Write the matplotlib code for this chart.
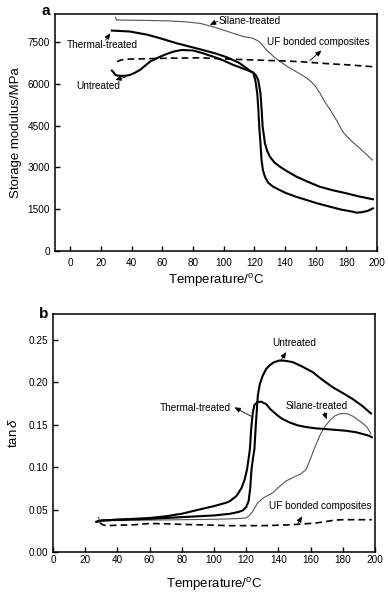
import matplotlib
matplotlib.use('Agg')
import matplotlib.pyplot as plt

plt.rcParams['font.family'] = ['Liberation Sans', 'DejaVu Sans']
plt.rcParams['mathtext.fontset'] = 'custom'
plt.rcParams['mathtext.rm'] = 'Liberation Sans'
plt.rcParams['mathtext.it'] = 'Liberation Sans:italic'

# ---- panel a : storage modulus (MPa) ----
silane_a_x = [29.5, 30, 35, 50, 65, 75, 85, 95, 106, 113, 119, 123, 128, 133, 137, 142, 147, 152, 156,
              160, 163, 166, 170, 174, 178, 183, 188, 193, 197]
silane_a_y = [8380, 8290, 8280, 8270, 8250, 8220, 8160, 8010, 7810, 7690, 7630, 7520, 7210, 6950, 6790,
              6600, 6440, 6280, 6130, 5900, 5640, 5350, 5020, 4650, 4250, 3960, 3720, 3470, 3260]

thermal_a_x = [27.1, 33, 39, 50, 58.6, 69.4, 84.6, 95, 102, 110, 115, 117.1, 119.3, 120.6, 121.9, 122.6,
               123.2, 124, 124.7, 125.6, 126.9, 129, 132.3, 136, 141, 147, 154, 161, 169.2, 177,
               184.3, 186.5, 190, 194, 197.3]
thermal_a_y = [7905, 7890, 7870, 7760, 7630, 7450, 7235, 7080, 6950, 6750, 6555, 6460, 6400, 6135, 5660,
               5100, 4460, 3860, 3265, 2900, 2665, 2450, 2305, 2200, 2070, 1950, 1830, 1710, 1590,
               1480, 1410, 1375, 1390, 1440, 1530]

untreated_a_x = [27.1, 28, 29.3, 31, 33.6, 36, 39, 42, 45.5, 52, 58.6, 63, 67.2, 72.7, 80.2, 86,
                 93.2, 100, 106.2, 115, 119.3, 121, 122.5, 124, 124.8, 125.4, 126.2, 126.9, 128.3,
                 130.1, 133, 136.6, 141, 147.5, 155, 162.7, 171, 180, 188, 197.3]
untreated_a_y = [6470, 6420, 6315, 6290, 6280, 6285, 6315, 6390, 6495, 6795, 6970, 7070, 7150, 7210,
                 7190, 7100, 6970, 6830, 6675, 6495, 6400, 6300, 6135, 5660, 5050, 4460, 4150, 3865,
                 3600, 3385, 3180, 3025, 2870, 2665, 2480, 2305, 2180, 2070, 1960, 1855]

uf_a_x = [30.5, 33, 37, 45, 60, 85, 100, 120, 137, 150, 160, 170, 180, 190, 199.5]
uf_a_y = [6790, 6850, 6880, 6890, 6910, 6930, 6890, 6850, 6820, 6790, 6750, 6710, 6680, 6640, 6600]

# ---- panel b : tan delta ----
thermal_b_x = [27, 30, 40, 50, 60, 70, 80, 91, 100, 107.6, 110, 114, 117, 119, 120.5, 121.5, 122.3,
               123.1, 124.1, 125.1, 127.2, 129.3, 132.4, 135, 138.6, 142, 146.8, 152, 157.2, 163,
               169.6, 176, 182, 188, 192, 196.5, 198]
thermal_b_y = [0.0355, 0.037, 0.038, 0.039, 0.040, 0.042, 0.045, 0.050, 0.054, 0.058, 0.060, 0.066,
               0.075, 0.085, 0.097, 0.110, 0.121, 0.145, 0.164, 0.173, 0.1765, 0.1768, 0.174, 0.168,
               0.162, 0.157, 0.1525, 0.149, 0.147, 0.1455, 0.1446, 0.1436, 0.1426, 0.141, 0.139,
               0.1366, 0.135]

untreated_b_x = [27, 30, 40, 50, 60, 70, 80, 90, 100, 110, 115, 118, 120, 121.5, 122.5, 123.3, 124.2,
                 125.1, 126, 127.2, 128.5, 130.3, 132.3, 134.4, 137, 140.6, 144, 148.9, 155, 161.3,
                 167, 173.7, 180, 186.1, 192, 197.5]
untreated_b_y = [0.0355, 0.037, 0.038, 0.0385, 0.039, 0.040, 0.041, 0.042, 0.043, 0.045, 0.047, 0.049,
                 0.053, 0.060, 0.075, 0.097, 0.110, 0.121, 0.150, 0.184, 0.198, 0.2076, 0.215, 0.2194,
                 0.223, 0.2253, 0.2250, 0.2234, 0.218, 0.2116, 0.203, 0.1939, 0.187, 0.180, 0.172,
                 0.163]

silane_b_x = [28, 29, 31, 40, 60, 80, 100, 110, 116, 120, 122, 124.1, 127.2, 131, 136.5, 140, 144.8,
              151, 154, 157.2, 160, 163, 166, 169, 172, 175, 178, 180, 183, 186, 189, 192, 195, 197.5]
silane_b_y = [0.041, 0.037, 0.037, 0.037, 0.0375, 0.038, 0.0385, 0.039, 0.0395, 0.040, 0.043, 0.048,
              0.058, 0.064, 0.0697, 0.076, 0.0835, 0.0894, 0.092, 0.097, 0.110, 0.125, 0.138, 0.148,
              0.155, 0.160, 0.1625, 0.163, 0.1625, 0.160, 0.156, 0.152, 0.147, 0.139]

uf_b_x = [29, 31, 33, 40, 50, 60, 70, 80, 90, 100, 110, 120, 130, 140, 148, 155, 163, 170, 175, 180,
          190, 198]
uf_b_y = [0.0345, 0.032, 0.031, 0.0315, 0.032, 0.0335, 0.0332, 0.0325, 0.032, 0.0315, 0.031, 0.031,
          0.031, 0.0315, 0.032, 0.033, 0.034, 0.036, 0.0375, 0.038, 0.038, 0.038]

xticks = [0, 20, 40, 60, 80, 100, 120, 140, 160, 180, 200]
yticks_a = [0, 1500, 3000, 4500, 6000, 7500]
yticks_b = [0.00, 0.05, 0.10, 0.15, 0.20, 0.25]

thick = dict(color='black', lw=1.5)
thin = dict(color='#555555', lw=0.8)
dash = dict(color='black', lw=1.2, dashes=(4, 2.5))
arrow = dict(arrowstyle='-|>,head_length=0.35,head_width=0.15', color='black', lw=0.6,
             shrinkA=0, shrinkB=0)

fig = plt.figure(figsize=(3.88, 5.92), dpi=100)
ax1 = fig.add_axes([55/388, 1-251/592, 322/388, 237/592])
ax2 = fig.add_axes([53/388, 1-552/592, 322/388, 238/592])

def style(ax):
    for s in ax.spines.values():
        s.set_linewidth(1.1)
    ax.tick_params(direction='in', length=3.5, width=1, labelsize=7.2,
                   top=False, right=False)
    ax.set_xticks(xticks)
    ax.set_xlabel(r'Temperature/$^{\mathrm{o}}$C', fontsize=9.5)

# panel a
ax1.plot(silane_a_x, silane_a_y, **thin)
ax1.plot(thermal_a_x, thermal_a_y, **thick)
ax1.plot(untreated_a_x, untreated_a_y, **thick)
ax1.plot(uf_a_x, uf_a_y, **dash)
ax1.set_xlim(-10, 200)
ax1.set_ylim(0, 8500)
ax1.set_yticks(yticks_a)
style(ax1)
ax1.tick_params(axis='x', pad=5)
ax1.set_ylabel('Storage modulus/MPa', fontsize=9.5, labelpad=4)
ax1.xaxis.labelpad = 3
ax1.text(-0.016, 1.013, 'a', transform=ax1.transAxes, ha='right', va='center',
         fontsize=11, fontweight='bold')

ax1.annotate('', xy=(91, 8110), xytext=(96, 8240), arrowprops=arrow)
ax1.text(96.5, 8265, 'Silane-treated', fontsize=7.2, va='center')
ax1.annotate('', xy=(26, 7810), xytext=(23, 7560), arrowprops=arrow)
ax1.text(-2.6, 7390, 'Thermal-treated', fontsize=7.2, va='center')
ax1.annotate('', xy=(29.3, 6135), xytext=(36, 6240), arrowprops=arrow)
ax1.text(3.7, 5920, 'Untreated', fontsize=7.2, va='center')
ax1.annotate('', xy=(163.8, 7190), xytext=(156.2, 6830), arrowprops=arrow)
ax1.text(128, 7510, 'UF bonded composites', fontsize=7.2, va='center')

# panel b
ax2.plot(silane_b_x, silane_b_y, **thin)
ax2.plot(thermal_b_x, thermal_b_y, **thick)
ax2.plot(untreated_b_x, untreated_b_y, **thick)
ax2.plot(uf_b_x, uf_b_y, **dash)
ax2.set_xlim(0, 200)
ax2.set_ylim(0, 0.28)
ax2.set_yticks(yticks_b)
ax2.set_yticklabels(['%.2f' % v for v in yticks_b])
style(ax2)
ax2.tick_params(axis='x', pad=2)
ax2.set_ylabel(r'tan$\,\delta$', fontsize=9.5, labelpad=6)
ax2.xaxis.labelpad = 8
ax2.text(-0.016, 1.0, 'b', transform=ax2.transAxes, ha='right', va='center',
         fontsize=11, fontweight='bold')

ax2.annotate('', xy=(144.8, 0.2352), xytext=(141.7, 0.2260), arrowprops=arrow)
ax2.text(150, 0.2462, 'Untreated', fontsize=7.2, va='center', ha='center')
ax2.annotate('', xy=(112.7, 0.1702), xytext=(123.1, 0.1596), arrowprops=arrow)
ax2.text(66.6, 0.169, 'Thermal-treated', fontsize=7.2, va='center')
ax2.annotate('', xy=(170, 0.156), xytext=(168.5, 0.164), arrowprops=arrow)
ax2.text(144.4, 0.172, 'Silane-treated', fontsize=7.2, va='center')
ax2.annotate('', xy=(154.7, 0.042), xytext=(152, 0.0335), arrowprops=arrow)
ax2.text(134, 0.054, 'UF bonded composites', fontsize=7.2, va='center')

fig.savefig('out.png', dpi=100)
